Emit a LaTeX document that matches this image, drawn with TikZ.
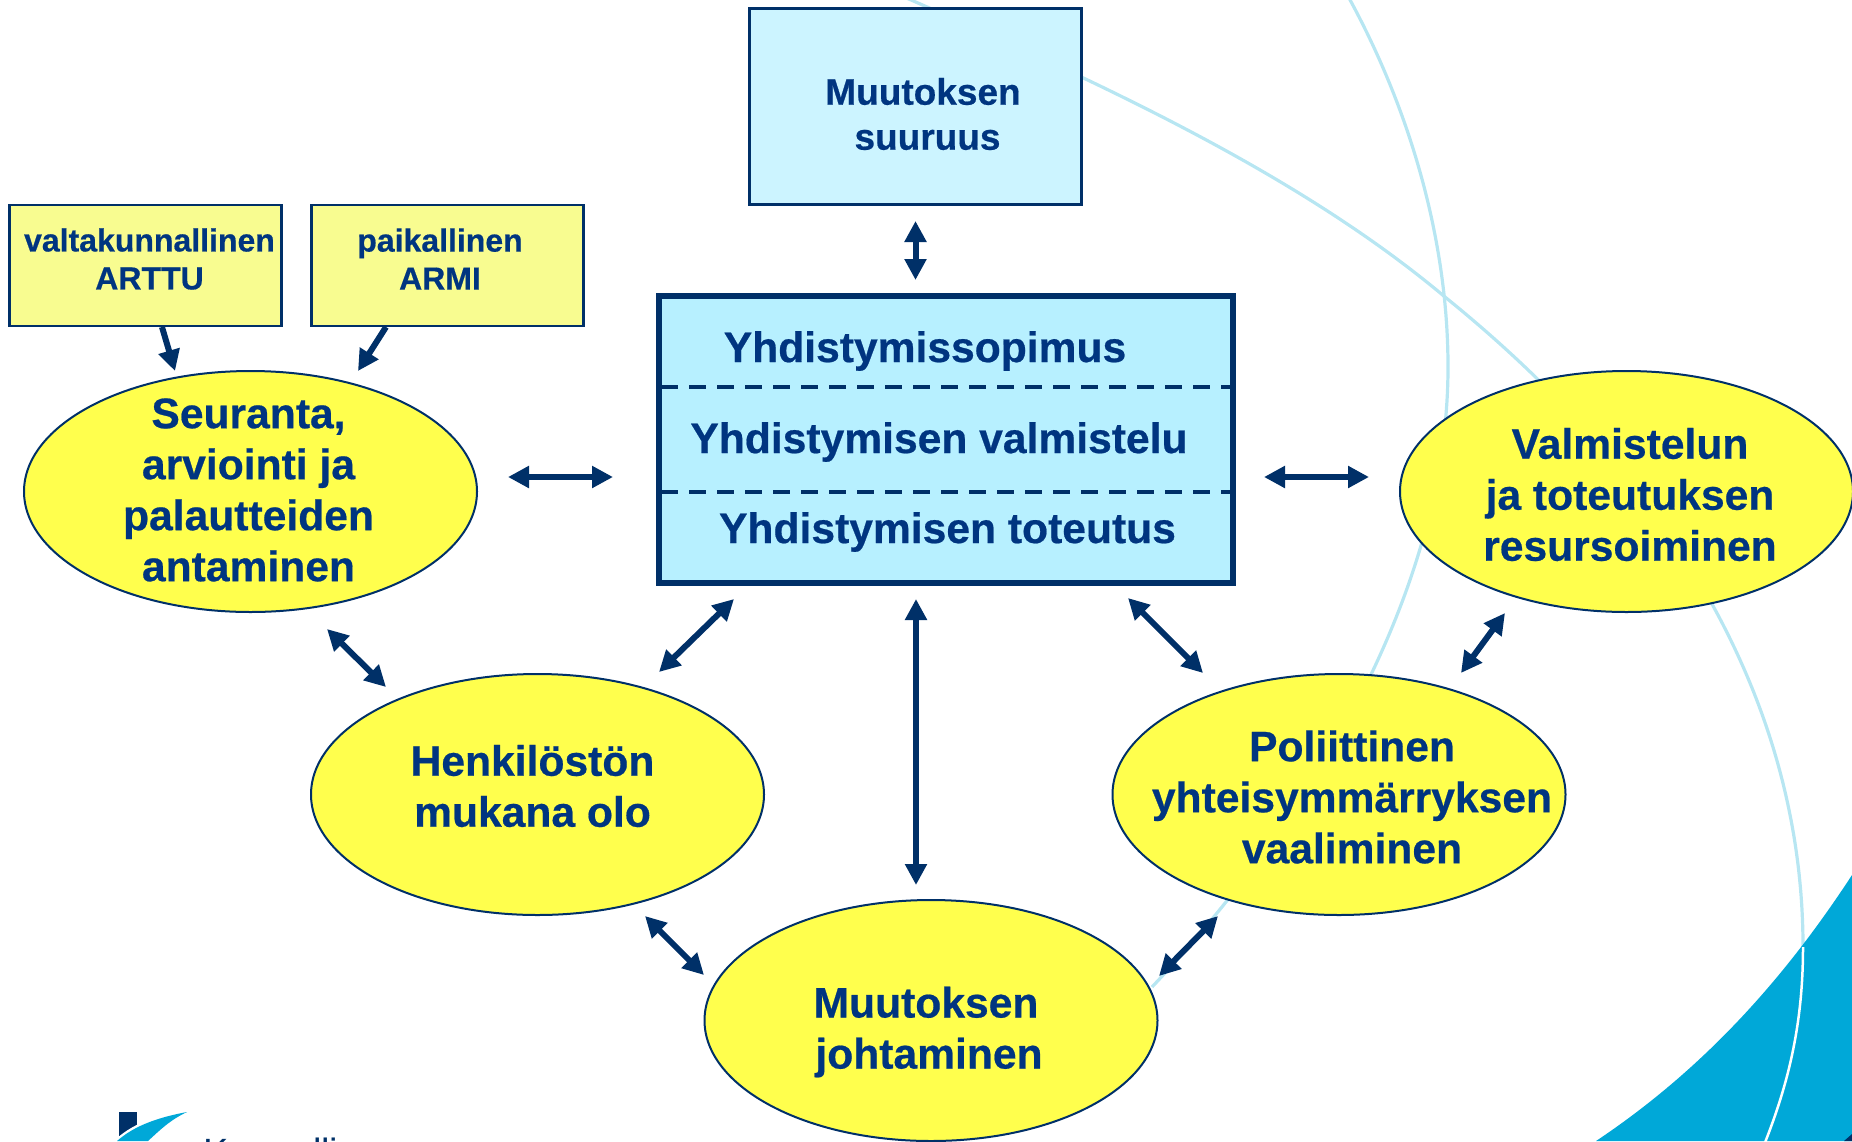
\documentclass[tikz,border=0pt]{standalone}
\usepackage{fontspec}
\setmainfont[BoldFeatures={FakeBold=0.5}]{Liberation Sans}
\usetikzlibrary{arrows.meta,shapes.geometric}
\definecolor{navy}{HTML}{003068}
\definecolor{ink}{HTML}{003580}
\definecolor{sun}{HTML}{FFFF4D}
\definecolor{pale}{HTML}{F8FC90}
\definecolor{icetop}{HTML}{CCF4FF}
\definecolor{icemid}{HTML}{B7F0FF}
\definecolor{swoosh}{HTML}{00A8D8}
\definecolor{thin}{HTML}{B7E6F2}
\tikzset{
  x=1pt,y=-1pt,
  oval/.style={draw=navy,fill=sun,line width=2pt,ellipse,inner sep=0pt,minimum width=453pt,minimum height=241pt},
  paper/.style={draw=navy,fill=pale,line width=2.5pt,inner sep=0pt,minimum width=272pt,minimum height=121pt},
  txt/.style={text=ink,font=\bfseries\fontsize{42.6}{51}\selectfont,align=center,inner sep=0pt},
  txtmid/.style={text=ink,font=\bfseries\fontsize{37}{45}\selectfont,align=center,inner sep=0pt},
  txtsmall/.style={text=ink,font=\bfseries\fontsize{32}{38}\selectfont,align=center,inner sep=0pt},
  link/.style={draw=navy,line width=6pt,{Triangle[length=21pt,width=21pt]}-{Triangle[length=21pt,width=21pt]}},
  oneway/.style={draw=navy,line width=6pt,-{Triangle[length=21pt,width=21pt]}},
  arc/.style={draw=thin,line width=3.2pt},
}
\begin{document}
\begin{tikzpicture}
\useasboundingbox (0,0) rectangle (1852,1141);
\clip (0,0) rectangle (1852,1141);
% background arcs
\draw[arc] (1349,-2) .. controls (1410,110) and (1448,240) .. (1448,367) .. controls (1448,600) and (1300,830) .. (1152,987);
\draw[arc] (895,-7) .. controls (1100,82) and (1300,175) .. (1445,297) .. controls (1690,495) and (1803,720) .. (1803,947);
\fill[swoosh] (1596,1141) .. controls (1710,1065) and (1790,970) .. (1852,875) -- (1852,1141) -- cycle;
\fill[navy] (1844,1141) -- (1852,1134) -- (1852,1141) -- cycle;
\draw[white,line width=2.5pt] (1803,947) .. controls (1803,1020) and (1790,1080) .. (1764,1145);
% logo
\fill[navy] (119,1112) rectangle (137,1136);
\fill[white] (114,1141) .. controls (130,1125) and (155,1115) .. (187,1110) -- (187,1141) -- cycle;
\fill[swoosh] (117,1141) .. controls (135,1125) and (160,1117) .. (187,1112) .. controls (170,1120) and (160,1130) .. (148,1141) -- cycle;
\node[anchor=base west,inner sep=0pt,text=navy,font=\fontsize{38}{38}\selectfont] (logotext) at (203,1165) {Kunnalli};
% boxes
\node[draw=navy,fill=icetop,line width=2.5pt,inner sep=0pt,minimum width=332pt,minimum height=196pt] (size) at (915.5,106.5) {};
\node[paper] (natl) at (145.5,265.5) {};
\node[paper] (locl) at (447.5,265.5) {};
\node[draw=navy,fill=icemid,line width=6pt,inner sep=0pt,minimum width=574pt,minimum height=287pt] (core) at (946,439.5) {};
\coordinate (d1l) at (661,387); \coordinate (d1r) at (1232,387);
\coordinate (d2l) at (661,492); \coordinate (d2r) at (1232,492);
\draw[navy,line width=3.5pt,dash pattern=on 17pt off 11pt] (d1l) -- (d1r);
\draw[navy,line width=3.5pt,dash pattern=on 17pt off 11pt] (d2l) -- (d2r);
% ellipses
\node[oval] (seur) at (250.5,491.5) {};
\node[oval] (valm) at (1626.5,491.5) {};
\node[oval] (henk) at (537.5,794.5) {};
\node[oval] (poli) at (1339,794.5) {};
\node[oval] (joht) at (931,1020.5) {};
% texts
\node[txtmid] (sizeT) at (923,114) {Muutoksen\hspace{9pt}\\\hspace{9pt}suuruus};
\node[txtsmall] (natlT) at (149.5,259) {valtakunnallinen\\ARTTU};
\node[txtsmall] (loclT) at (440,259) {paikallinen\\ARMI};
\node[txt] (c1) at (925,351) {Yhdistymissopimus};
\node[txt] (c2) at (939,442) {Yhdistymisen valmistelu};
\node[txt] (c3) at (947.5,532) {Yhdistymisen toteutus};
\node[txt] (seurT) at (248.5,490) {Seuranta,\\arviointi ja\\palautteiden\\antaminen};
\node[txt] (valmT) at (1630,494.5) {Valmistelun\\ja toteutuksen\hspace{7pt}\\resursoiminen};
\node[txt] (henkT) at (532.5,786) {Henkilöstön\\mukana olo};
\node[txt] (poliT) at (1352,797) {Poliittinen\\yhteisymmärryksen\\vaaliminen};
\node[txt] (johtT) at (926,1032) {Muutoksen\hspace{6pt}\\\hspace{6pt}johtaminen};
% connectors
\coordinate (a1) at (915.5,221); \coordinate (a2) at (915.5,280);
\draw[link] (a1) -- (a2);
\coordinate (b1) at (916,599); \coordinate (b2) at (916,885);
\draw[link] (b1) -- (b2);
\coordinate (e1) at (508,477); \coordinate (e2) at (613,477);
\draw[link] (e1) -- (e2);
\coordinate (f1) at (1264,477); \coordinate (f2) at (1369,477);
\draw[link] (f1) -- (f2);
\coordinate (g1) at (162,327); \coordinate (g2) at (175,371);
\draw[oneway] (g1) -- (g2);
\coordinate (h1) at (386,327); \coordinate (h2) at (358,371);
\draw[oneway] (h1) -- (h2);
\coordinate (i1) at (327,629); \coordinate (i2) at (386,687);
\draw[link] (i1) -- (i2);
\coordinate (j1) at (659,672); \coordinate (j2) at (734,599);
\draw[link] (j1) -- (j2);
\coordinate (k1) at (1128,598); \coordinate (k2) at (1203,673);
\draw[link] (k1) -- (k2);
\coordinate (l1) at (1461,673); \coordinate (l2) at (1505,613);
\draw[link] (l1) -- (l2);
\coordinate (m1) at (1159,976); \coordinate (m2) at (1218,916);
\draw[link] (m1) -- (m2);
\coordinate (n1) at (645,916); \coordinate (n2) at (704,975);
\draw[link] (n1) -- (n2);
\end{tikzpicture}
\end{document}
